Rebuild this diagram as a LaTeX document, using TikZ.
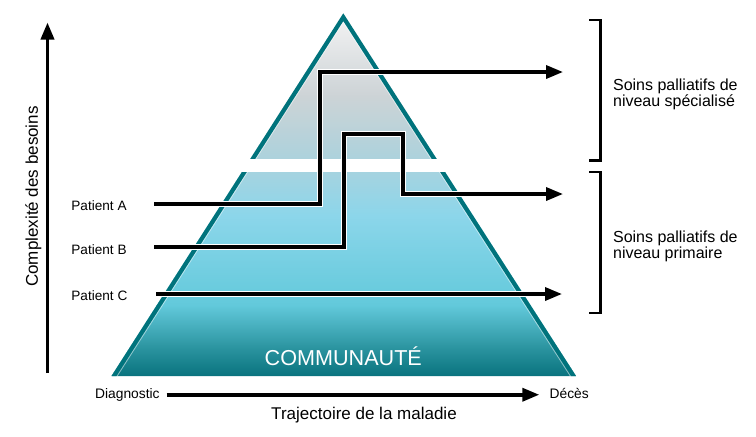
\documentclass[tikz,border=0pt]{standalone}
\usepackage{fontspec}
\setmainfont{Liberation Sans}
\usetikzlibrary{arrows.meta}

\definecolor{pyrborder}{HTML}{00737C}
\definecolor{pyrwhite}{HTML}{F4F4F4}
\definecolor{pyrgrey}{HTML}{CDD3D6}
\definecolor{pyrpale}{HTML}{ACD2DC}
\definecolor{lowtop}{HTML}{A5D3E0}
\definecolor{lowsky}{HTML}{8CD6EA}
\definecolor{lowcyan}{HTML}{62C9DB}
\definecolor{lowteal}{HTML}{2E97A3}
\definecolor{lowdark}{HTML}{08727D}

\tikzset{
  tip/.style = {-{Triangle[length=8.5pt, width=6.5pt]}},
  edge/.style = {line width = 4.2pt, draw = pyrborder,
    preaction = {draw = white, draw opacity = .5, line width = 5.2pt}},
  course/.style = {tip, line width = 1.7pt,
    preaction = {draw = white, arrows = -, line width = 2.6pt, shorten >= 8pt}},
  axis/.style = {tip, line width = 1.8pt},
  bracket/.style = {line width = 1.4pt},
  patient/.style = {font = \fontsize{6.8}{8}\selectfont, inner sep = 0pt, anchor = base west},
  care/.style = {font = \fontsize{8}{7.8}\selectfont, inner sep = 0pt, anchor = west, align = left}
}

\begin{document}
\begin{tikzpicture}[x = .5pt, y = -.5pt]
        \useasboundingbox (0,0) rectangle (756,436);

        % corners of the pyramid
        \coordinate (apex) at (343.3,13.3);
        \coordinate (base left) at (111.5,376);
        \coordinate (base right) at (576,376);

        % upper level
        \begin{scope}
          \clip (apex) -- (base left) -- (base right) -- cycle;
          \clip (0,0) rectangle (756,158.7);
          \foreach \ya/\yb/\ca/\cb in {13/95.5/pyrwhite/pyrgrey, 95/159/pyrgrey/pyrpale}
            \shade[top color = \ca, bottom color = \cb] (100,\ya) rectangle (600,\yb);
          \draw[edge] (base left) -- (apex) -- (base right);
        \end{scope}

        % lower level
        \begin{scope}
          \clip (apex) -- (base left) -- (base right) -- cycle;
          \clip (0,172) rectangle (756,436);
          \foreach \ya/\yb/\ca/\cb in {172/215.5/lowtop/lowsky, 215/305.5/lowsky/lowcyan,
              305/345.5/lowcyan/lowteal, 345/377/lowteal/lowdark}
            \shade[top color = \ca, bottom color = \cb] (100,\ya) rectangle (600,\yb);
          \draw[edge] (base left) -- (apex) -- (base right);
        \end{scope}

        \node[font = \fontsize{10.8}{12}\selectfont, text = white, inner sep = 0pt, anchor = base]
          (community) at (343.3,365) {COMMUNAUTÉ};

        % patients
        \node[patient] (pa) at (71,210.7) {Patient A};
        \node[patient] (pb) at (71,254) {Patient B};
        \node[patient] (pc) at (71,300) {Patient C};

        \coordinate (a start) at (154,204);
        \coordinate (a top) at (320,72);
        \coordinate (a end) at (563,72);
        \coordinate (b start) at (154,247);
        \coordinate (b top) at (344,134);
        \coordinate (b drop) at (403,194);
        \coordinate (b end) at (563,194);
        \coordinate (c start) at (156,294);
        \coordinate (c end) at (562,294);

        \draw[course] (a start) -| (a top) -- (a end);
        \draw[course] (b start) -| (b top) -| (b drop) -- (b end);
        \draw[course] (c start) -- (c end);

        % levels of care
        \foreach \ya/\yb in {20/160.5, 172/313}
          \draw[bracket] (589,\ya) -- (600.5,\ya) -- (600.5,\yb) -- (589,\yb);
        \node[care] (special) at (612.7,94.4) {Soins palliatifs de\\niveau spécialisé};
        \node[care] (primary) at (612.7,246.4) {Soins palliatifs de\\niveau primaire};

        % axes
        \coordinate (y base) at (47.5,373);
        \coordinate (y tip) at (47.5,22.5);
        \draw[axis] (y base) -- (y tip);
        \node[font = \fontsize{8.5}{10}\selectfont, rotate = 90, inner sep = 0pt]
          (needs) at (33.3,196.5) {Complexité des besoins};

        \node[patient, anchor = base east, font = \fontsize{6.9}{8}\selectfont]
          (diag) at (160,398.3) {Diagnostic};
        \node[patient, font = \fontsize{6.9}{8}\selectfont]
          (deces) at (549.3,398.3) {Décès};
        \draw[axis, shorten <= 3.3pt, shorten >= 5pt] (diag.east) -- (diag.east -| deces.west);
        \node[font = \fontsize{8.5}{10}\selectfont, inner sep = 0pt, anchor = base]
          (course) at (364,419.3) {Trajectoire de la maladie};
      \end{tikzpicture}
\end{document}
